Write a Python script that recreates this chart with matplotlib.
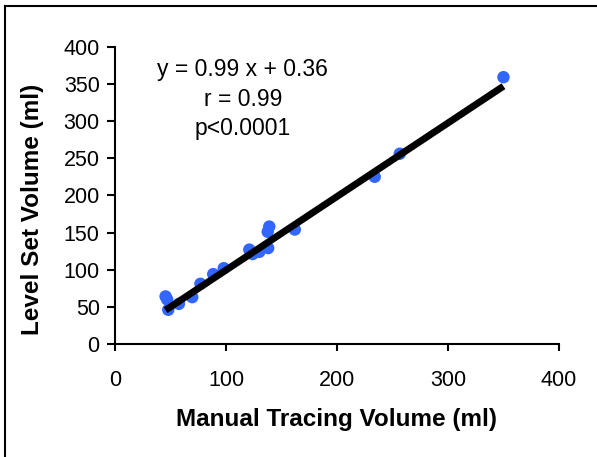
import matplotlib
matplotlib.use("Agg")
import matplotlib.pyplot as plt
from matplotlib.lines import Line2D

manual = [45.6, 47, 48, 57.6, 69.6, 77, 88.5, 98, 121, 124, 130, 138, 137.6, 139, 162, 234, 256.6, 350]
levelset = [64, 60, 46, 54, 63, 81, 94, 102, 127, 121, 124, 129, 151, 158, 154, 225, 256, 359]
slope, intercept = 0.99, 0.36
x_ticks = [0, 100, 200, 300, 400]
y_ticks = [0, 50, 100, 150, 200, 250, 300, 350, 400]
annotation = ["y = 0.99 x + 0.36", "r = 0.99", "p<0.0001"]

plt.rcParams['font.family'] = ['Liberation Sans', 'DejaVu Sans']
fig = plt.figure(figsize=(5.97, 4.57), dpi=100)
ax = fig.add_axes([0.1926, 0.2473, 0.7437, 0.6505])

ax.scatter(manual, levelset, s=80, color='#3366ff', edgecolors='none', zorder=2)
xs = [min(manual), max(manual)]
ax.plot(xs, [slope * v + intercept for v in xs], color='black', lw=5, solid_capstyle='butt', zorder=3)

ax.set_xlim(0, 400)
ax.set_ylim(0, 400)
ax.set_xticks(x_ticks)
ax.set_yticks(y_ticks)
for s in ['top', 'right']:
    ax.spines[s].set_visible(False)
for s in ['left', 'bottom']:
    ax.spines[s].set_linewidth(1.5)
ax.tick_params(axis='x', direction='out', length=5, width=1.5, labelsize=15.5, pad=14)
ax.tick_params(axis='y', direction='out', length=6, width=1.5, labelsize=15.5, pad=5)

ax.set_xlabel('Manual Tracing Volume (ml)', fontsize=17.5, fontweight='bold', labelpad=12)
ax.set_ylabel('Level Set Volume (ml)', fontsize=17.5, fontweight='bold', labelpad=14)
ax.yaxis.label.set_y(0.454)

ax.text(0.288, 0.824, "\n".join(annotation), transform=ax.transAxes, ha='center', va='center',
        fontsize=16.5, linespacing=1.37, multialignment='center')

# outer frame (clipped on right and bottom)
fig.add_artist(Line2D([5/597, 5/597], [0, 1 - 6/457], transform=fig.transFigure, color='black', lw=1.5))
fig.add_artist(Line2D([5/597, 1], [1 - 6/457, 1 - 6/457], transform=fig.transFigure, color='black', lw=1.5))

fig.savefig('out.png', dpi=100)
